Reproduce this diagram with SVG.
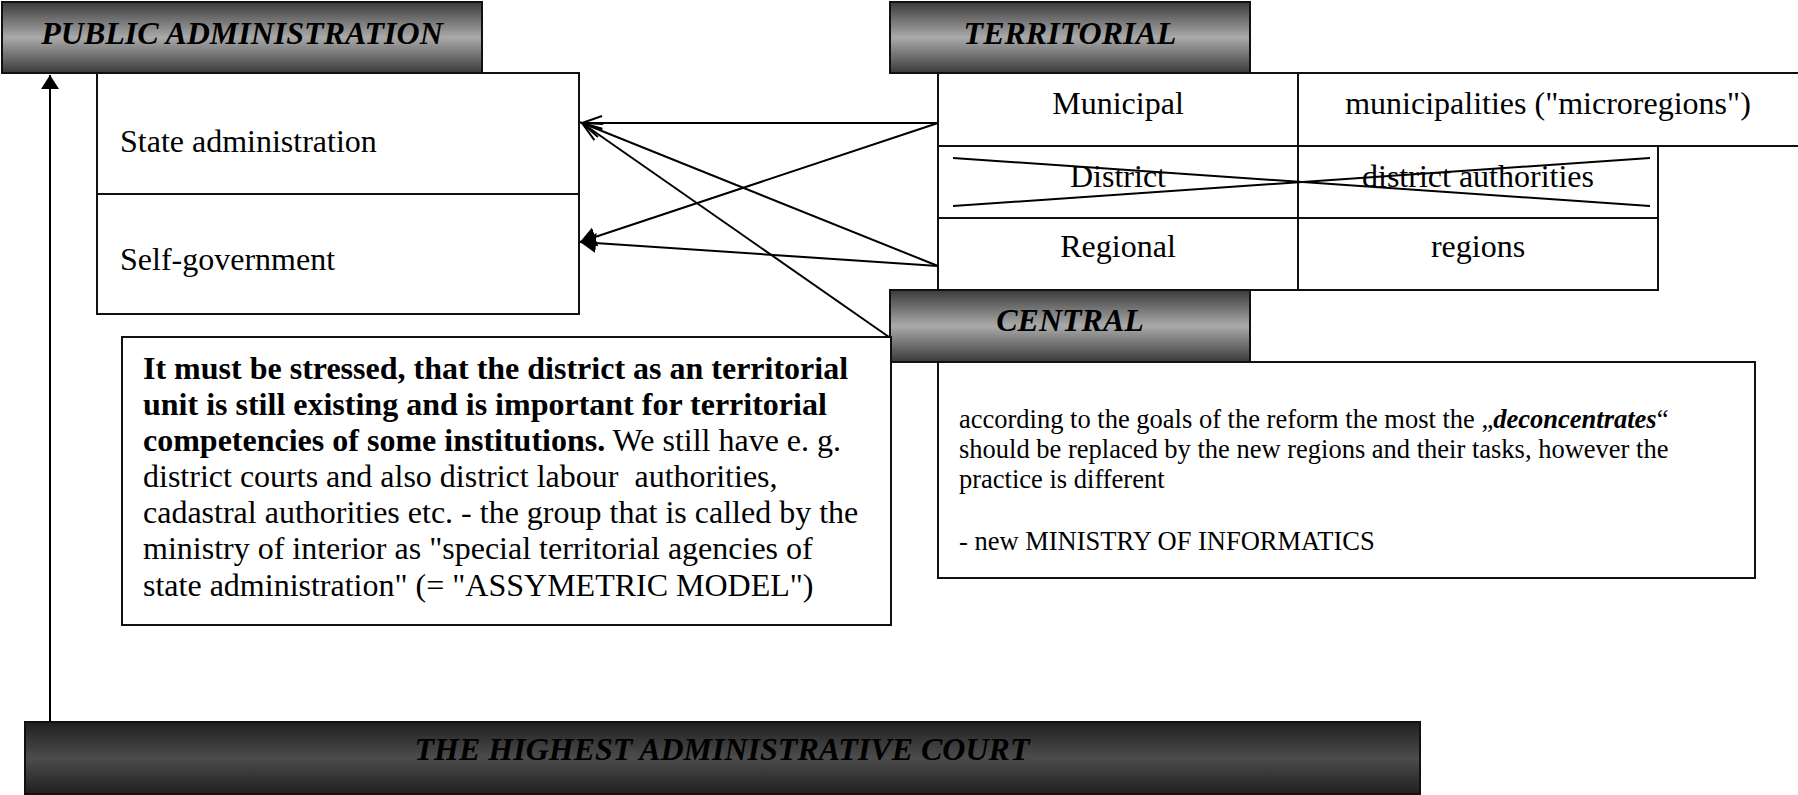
<svg xmlns="http://www.w3.org/2000/svg" width="1798" height="795" viewBox="0 0 1798 795">
<style>
.box{fill:#fff;stroke:#111;stroke-width:2}
.hdr{stroke:#111;stroke-width:2}
.t{font-family:"Liberation Serif","Times New Roman",serif;font-size:32px;fill:#000}
.h{font-family:"Liberation Serif","Times New Roman",serif;font-size:32px;font-weight:bold;font-style:italic;fill:#000}
.c{font-family:"Liberation Serif","Times New Roman",serif;font-size:26.5px;fill:#000}
.b{font-weight:bold}
.conn line{stroke:#000;stroke-width:2}
</style>
<defs>
<linearGradient id="g1" x1="0" y1="0" x2="0" y2="1">
<stop offset="0" stop-color="#3a3a3a"/><stop offset="0.5" stop-color="#aaaaaa"/><stop offset="1" stop-color="#3a3a3a"/>
</linearGradient>
<linearGradient id="g2" x1="0" y1="0" x2="0" y2="1">
<stop offset="0" stop-color="#202020"/><stop offset="0.5" stop-color="#4c4c4c"/><stop offset="1" stop-color="#202020"/>
</linearGradient>
<marker id="open" markerUnits="userSpaceOnUse" markerWidth="24" markerHeight="18" refX="21" refY="8" orient="auto">
<path d="M1,1 L21,8 L1,15" fill="none" stroke="#000" stroke-width="2"/>
</marker>
<marker id="fill" markerUnits="userSpaceOnUse" markerWidth="20" markerHeight="22" refX="16" refY="10" orient="auto">
<path d="M0,0 L16,10 L0,20 Z" fill="#000"/>
</marker>
<marker id="up" markerUnits="userSpaceOnUse" markerWidth="20" markerHeight="20" refX="14" refY="9" orient="auto">
<path d="M0,0 L14,9 L0,18 Z" fill="#000"/>
</marker>
</defs>

<g id="public-administration">
<rect class="hdr" x="2" y="2" width="480" height="71" fill="url(#g1)"/>
<text class="h" x="242" y="44" text-anchor="middle">PUBLIC ADMINISTRATION</text>
</g>
<g id="state-administration">
<rect class="box" x="97" y="73" width="482" height="121"/>
<text class="t" x="120" y="152">State administration</text>
</g>
<g id="self-government">
<rect class="box" x="97" y="194" width="482" height="120"/>
<text class="t" x="120" y="270">Self-government</text>
</g>

<g id="territorial">
<rect class="hdr" x="890" y="2" width="360" height="71" fill="url(#g1)"/>
<text class="h" x="1070" y="44" text-anchor="middle">TERRITORIAL</text>
</g>
<g id="municipal">
<rect class="box" x="938" y="73" width="360" height="73"/>
<rect class="box" x="1298" y="73" width="510" height="73"/>
<text class="t" x="1118" y="114" text-anchor="middle">Municipal</text>
<text class="t" x="1548" y="114" text-anchor="middle">municipalities ("microregions")</text>
</g>
<g id="district">
<rect class="box" x="938" y="146" width="360" height="72"/>
<rect class="box" x="1298" y="146" width="360" height="72"/>
<text class="t" x="1118" y="187" text-anchor="middle">District</text>
<text class="t" x="1478" y="187" text-anchor="middle">district authorities</text>
<line x1="953" y1="158" x2="1650" y2="206" stroke="#000" stroke-width="2"/>
<line x1="953" y1="206" x2="1650" y2="158" stroke="#000" stroke-width="2"/>
</g>
<g id="regional">
<rect class="box" x="938" y="218" width="360" height="72"/>
<rect class="box" x="1298" y="218" width="360" height="72"/>
<text class="t" x="1118" y="257" text-anchor="middle">Regional</text>
<text class="t" x="1478" y="257" text-anchor="middle">regions</text>
</g>

<g id="central">
<rect class="hdr" x="890" y="290" width="360" height="72" fill="url(#g1)"/>
<text class="h" x="1070" y="331" text-anchor="middle">CENTRAL</text>
</g>
<g id="central-note">
<rect class="box" x="938" y="362" width="817" height="216"/>
<text class="c" x="959" y="428">according to the goals of the reform the most the „<tspan font-weight="bold" font-style="italic">deconcentrates</tspan>“</text>
<text class="c" x="959" y="458">should be replaced by the new regions and their tasks, however the</text>
<text class="c" x="959" y="488">practice is different</text>
<text class="c" x="959" y="550">- new MINISTRY OF INFORMATICS</text>
</g>

<g id="district-note">
<rect class="box" x="122" y="337" width="769" height="288"/>
<text class="t b" x="143" y="379">It must be stressed, that the district as an territorial</text>
<text class="t b" x="143" y="415">unit is still existing and is important for territorial</text>
<text class="t" x="143" y="451"><tspan font-weight="bold">competencies of some institutions.</tspan> We still have e. g.</text>
<text class="t" x="143" y="487" xml:space="preserve">district courts and also district labour  authorities,</text>
<text class="t" x="143" y="523">cadastral authorities etc. - the group that is called by the</text>
<text class="t" x="143" y="559">ministry of interior as "special territorial agencies of</text>
<text class="t" x="143" y="596">state administration" (= "ASSYMETRIC MODEL")</text>
</g>

<g id="highest-court">
<rect class="hdr" x="25" y="722" width="1395" height="72" fill="url(#g2)"/>
<text class="h" x="722" y="760" text-anchor="middle">THE HIGHEST ADMINISTRATIVE COURT</text>
</g>

<g id="connectors" class="conn">
<line x1="938" y1="123" x2="582" y2="123" marker-end="url(#open)"/>
<line x1="938" y1="266" x2="582" y2="123" marker-end="url(#open)"/>
<line x1="889" y1="337" x2="582" y2="123" marker-end="url(#open)"/>
<line x1="938" y1="123" x2="580" y2="242" marker-end="url(#fill)"/>
<line x1="938" y1="266" x2="580" y2="242" marker-end="url(#fill)"/>
<line x1="50" y1="722" x2="50" y2="75" marker-end="url(#up)"/>
</g>
</svg>
